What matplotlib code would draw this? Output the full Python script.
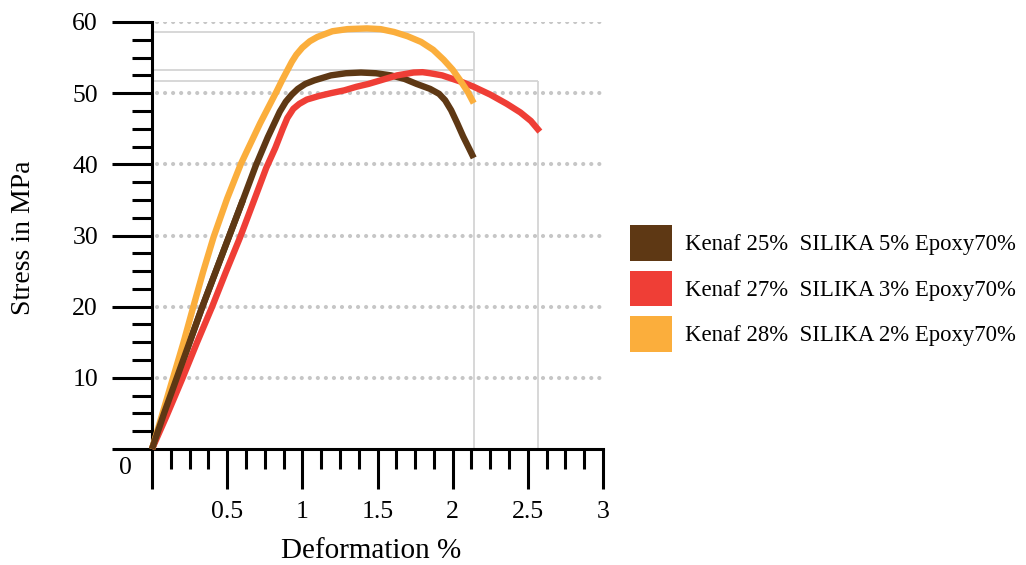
import matplotlib.pyplot as plt
from matplotlib.patches import Patch
from matplotlib.ticker import MultipleLocator

plt.rcParams['font.family'] = ['Liberation Serif', 'DejaVu Serif']

# stress-strain curves (deformation %, stress MPa)
k25_x = [0, 0.08, 0.165, 0.25, 0.335, 0.425, 0.515, 0.605, 0.69, 0.77, 0.85, 0.89,
         0.93, 0.97, 1.02, 1.08, 1.19, 1.29, 1.39, 1.49, 1.59, 1.68, 1.76, 1.85,
         1.91, 1.95, 1.99, 2.03, 2.07, 2.11, 2.14]
k25_y = [0, 5, 10, 15, 20, 25, 30, 35, 39.8, 43.8, 47.4, 48.8,
         49.8, 50.6, 51.3, 51.8, 52.5, 52.8, 52.9, 52.8, 52.5, 52.0, 51.3, 50.6,
         49.9, 49.0, 47.6, 45.8, 43.9, 42.2, 40.9]

k27_x = [0, 0.1, 0.2, 0.3, 0.4, 0.49, 0.587, 0.68, 0.76, 0.82, 0.87, 0.90, 0.94,
         0.98, 1.03, 1.11, 1.19, 1.28, 1.36, 1.44, 1.52, 1.63, 1.74, 1.80, 1.85,
         1.93, 2.0, 2.07, 2.14, 2.25, 2.36, 2.45, 2.52, 2.58]
k27_y = [0, 4.8, 9.8, 15, 20, 24.8, 29.8, 35, 39.5, 42.3, 45, 46.5, 47.8,
         48.5, 49.1, 49.6, 50.0, 50.4, 50.9, 51.3, 51.8, 52.5, 52.9, 52.95, 52.8,
         52.5, 52.0, 51.5, 50.9, 49.8, 48.5, 47.3, 46.1, 44.6]

k28_x = [0, 0.07, 0.14, 0.21, 0.275, 0.34, 0.41, 0.50, 0.59, 0.63, 0.72, 0.83, 0.865,
         0.90, 0.93, 0.96, 1.0, 1.05, 1.1, 1.2, 1.3, 1.43, 1.52, 1.61, 1.70,
         1.79, 1.87, 1.94, 2.0, 2.05, 2.1, 2.14]
k28_y = [0, 5, 10, 15, 20, 24.9, 29.8, 35.2, 40, 41.8, 45.8, 50.3, 51.8,
         53.2, 54.4, 55.4, 56.4, 57.3, 57.9, 58.7, 59.0, 59.1, 59.0, 58.6, 58.0,
         57.2, 56.1, 54.7, 53.3, 51.8, 50.2, 48.6]

labels = ['Kenaf 25%  SILIKA 5% Epoxy70%',
          'Kenaf 27%  SILIKA 3% Epoxy70%',
          'Kenaf 28%  SILIKA 2% Epoxy70%']
colors = ['#5E3814', '#EF3E36', '#FBAE3C']

# peak guide lines: (stress level, end of strain)
peak_levels = [58.6, 53.3, 51.7]
peak_ends = [2.14, 2.14, 2.57]
grid_levels = [10, 20, 30, 40, 50, 60]

fig = plt.figure(figsize=(10.26, 5.65), dpi=100)
ax = fig.add_axes([152 / 1026, 116 / 565, 451 / 1026, 427 / 565])

ax.hlines(grid_levels, 0.03, 3, colors='#c6c6c6', linewidth=3,
          linestyles=[(0, (0.01, 1.92))], capstyle='round', zorder=1)

for lvl, xe in zip(peak_levels, peak_ends):
    ax.hlines(lvl, 0, xe, colors='#d4d4d4', linewidth=1.3, zorder=1)
ax.vlines(peak_ends[0], 0, peak_levels[0], colors='#d4d4d4', linewidth=1.3, zorder=1)
ax.vlines(peak_ends[2], 0, peak_levels[2], colors='#d4d4d4', linewidth=1.3, zorder=1)

for xs, ys, c in zip([k25_x, k27_x, k28_x], [k25_y, k27_y, k28_y], colors):
    ax.plot(xs, ys, color=c, lw=4.6, solid_joinstyle='round',
            solid_capstyle='butt', zorder=3, clip_on=False)
# brown drawn on top near the origin
ax.plot(k25_x[:8], k25_y[:8], color=colors[0], lw=4.6, zorder=3.5,
        solid_capstyle='butt', clip_on=False)

ax.set_xlim(0, 3)
ax.set_ylim(0, 60)
for s in ['top', 'right']:
    ax.spines[s].set_visible(False)
for s in ['left', 'bottom']:
    ax.spines[s].set_linewidth(2.2)

ax.set_xticks([0, 0.5, 1, 1.5, 2, 2.5, 3])
ax.set_xticklabels(['', '0.5', '1', '1.5', '2', '2.5', '3'])
ax.set_yticks([0, 10, 20, 30, 40, 50, 60])
ax.set_yticklabels(['', '10', '20', '30', '40', '50', '60'])
ax.xaxis.set_minor_locator(MultipleLocator(0.125))
ax.yaxis.set_minor_locator(MultipleLocator(2.5))
ax.tick_params(which='major', length=28.8, width=2.2, labelsize=18.5)
ax.tick_params(which='minor', length=14.4, width=2.2)
ax.tick_params(axis='x', which='major', pad=9)
ax.tick_params(axis='y', which='major', pad=10)

ax.annotate('0', xy=(0, 0), xytext=(-19.4, -13.7), textcoords='offset points',
            ha='center', va='center', fontsize=18.5)

ax.set_xlabel('Deformation %', fontsize=21, va='center')
ax.xaxis.set_label_coords(0.486, -0.239)
ax.set_ylabel('Stress in MPa', fontsize=20, va='center', ha='center')
ax.yaxis.set_label_coords(-0.284, 0.494)

handles = [Patch(facecolor=c, edgecolor='none') for c in colors]
fig.legend(handles, labels, loc='center left',
           bbox_to_anchor=(630 / 1026, (565 - 288.5) / 565),
           frameon=False, fontsize=16.4, handlelength=1.84, handleheight=1.99,
           labelspacing=0.46, handletextpad=0.57, borderpad=0, borderaxespad=0)

fig.savefig('out.png', dpi=100)
